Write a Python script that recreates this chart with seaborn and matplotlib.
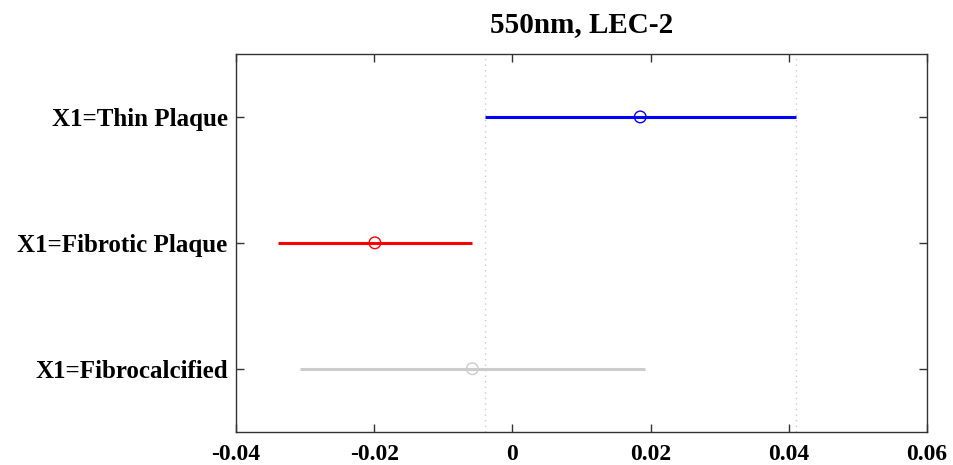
import numpy as np
import pandas as pd
import matplotlib
matplotlib.use('Agg')
import matplotlib.pyplot as plt
import seaborn as sns

# group estimates and comparison intervals
groups = ['X1=Thin Plaque', 'X1=Fibrotic Plaque', 'X1=Fibrocalcified']
means = [0.0185, -0.0199, -0.0058]
lower = [-0.0040, -0.0339, -0.0308]
upper = [0.0410, -0.0059, 0.0192]
colors = ['#0000ff', '#ff0000', '#cccccc']
xticks = [-0.04, -0.02, 0, 0.02, 0.04, 0.06]
xticklabels = ['-0.04', '-0.02', '0', '0.02', '0.04', '0.06']

df = pd.DataFrame({'group': groups, 'mean': means, 'lower': lower, 'upper': upper})
df['ypos'] = [3, 2, 1]

sns.set_style('white')
plt.rcParams['font.family'] = ['Liberation Serif', 'DejaVu Serif']
plt.rcParams['font.weight'] = 'bold'

fig = plt.figure(figsize=(9.54, 4.65), dpi=100)
ax = fig.add_axes([0.2474, 0.0716, 0.7243, 0.8123])

# reference lines at the bounds of the selected (top) group
ax.axvline(df['lower'][0], color='#cccccc', ls=(0, (1, 3)), lw=1, zorder=0)
ax.axvline(df['upper'][0], color='#cccccc', ls=(0, (1, 3)), lw=1, zorder=0)

for i, row in df.iterrows():
    ax.hlines(row['ypos'], row['lower'], row['upper'], color=colors[i], lw=2.2, zorder=2)

sns.scatterplot(data=df, x='mean', y='ypos', hue='group', palette=colors,
                marker='o', s=70, facecolor='none', linewidth=1, legend=False, ax=ax, zorder=3)
for coll in ax.collections:
    fc = coll.get_facecolors()
    if len(fc) == 3:
        coll.set_edgecolors(colors)
        coll.set_facecolors('none')

ax.set_xlim(-0.04, 0.06)
ax.set_ylim(0.5, 3.5)
ax.set_xticks(xticks)
ax.set_xticklabels(xticklabels)
ax.set_yticks(df['ypos'])
ax.set_yticklabels(df['group'])
ax.set_xlabel('')
ax.set_ylabel('')
ax.tick_params(axis='both', direction='in', length=6, width=1, color='#333333',
               labelcolor='black', top=True, right=True, bottom=True, left=True)
ax.tick_params(axis='x', labelsize=17, pad=9)
ax.tick_params(axis='y', labelsize=18, pad=6)
for lab in ax.get_xticklabels() + ax.get_yticklabels():
    lab.set_fontweight('bold')
for sp in ax.spines.values():
    sp.set_color('#333333')
    sp.set_linewidth(1)

ax.set_title('550nm, LEC-2', fontsize=21, fontweight='bold', pad=16, color='black')

fig.savefig('out.png', dpi=100)
